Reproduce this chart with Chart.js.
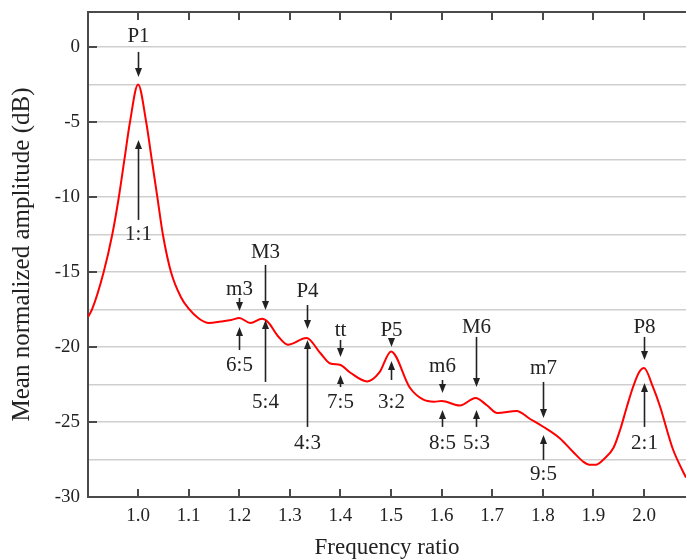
<!DOCTYPE html>
<html>
<head>
<meta charset="utf-8">
<script src="https://cdn.jsdelivr.net/npm/chart.js@4/dist/chart.umd.min.js"></script>
<style>
  html, body { margin: 0; padding: 0; background: #fff; }
  #wrap { width: 686px; height: 559px; }
</style>
</head>
<body>
<div id="wrap"><canvas id="myChart" width="686" height="559"></canvas></div>
<script>
// frequency ratio (x) and mean normalized amplitude in dB (y)
const ratios = [0.901, 0.909, 0.932, 0.949, 0.962, 0.973, 0.984, 1.0, 1.016, 1.027, 1.038, 1.049, 1.065,
  1.085, 1.1, 1.12, 1.14, 1.164, 1.184, 1.2, 1.222, 1.245, 1.257, 1.277, 1.296, 1.333, 1.36, 1.38, 1.4, 1.419,
  1.453, 1.477, 1.5, 1.537, 1.563, 1.585, 1.6, 1.636, 1.667, 1.69, 1.71, 1.748, 1.775, 1.8, 1.834, 1.86,
  1.88, 1.892, 1.905, 1.92, 1.94, 1.953, 1.966, 1.978, 1.99, 2.0, 2.018, 2.032, 2.045, 2.057, 2.077, 2.083];
const amplitudes = [-18.0, -17.5, -15.0, -12.5, -10.0, -7.5, -5.0, -2.5, -5.0, -7.5, -10.0, -12.5, -15.0,
  -16.7, -17.45, -18.1, -18.4, -18.3, -18.2, -18.07, -18.4, -18.12, -18.35, -19.3, -19.85, -19.4, -20.4, -21.1, -21.2, -21.7,
  -22.3, -21.7, -20.3, -22.7, -23.5, -23.65, -23.6, -23.9, -23.4, -23.9, -24.4, -24.27, -24.8, -25.3, -26.1, -27.0,
  -27.65, -27.85, -27.85, -27.5, -26.7, -25.5, -24.0, -22.7, -21.7, -21.4, -22.7, -24.0, -25.5, -26.8, -28.3, -28.7];

// x and y ticks
const xTicks = [1.0, 1.1, 1.2, 1.3, 1.4, 1.5, 1.6, 1.7, 1.8, 1.9, 2.0];
const yTicks = [-30, -25, -20, -15, -10, -5, 0];
const yGrid = [-30, -27.5, -25, -22.5, -20, -17.5, -15, -12.5, -10, -7.5, -5, -2.5, 0];

// interval names (above) and just ratios (below)
const intervalNames = ['P1', 'm3', 'M3', 'P4', 'tt', 'P5', 'm6', 'M6', 'm7', 'P8'];
const ratioNames = ['1:1', '6:5', '5:4', '4:3', '7:5', '3:2', '8:5', '5:3', '9:5', '2:1'];
const intervalRatios = [1.0, 1.2, 1.25, 1.333, 1.4, 1.5, 1.6, 1.667, 1.8, 2.0];

// where the labels and arrows sit, in dB
const topLabelY = [0.73, -16.2, -13.73, -16.33, -18.87, -18.87, -21.33, -18.73, -21.4, -18.67];
const topArrowFrom = [-0.33, -16.73, -14.53, -17.2, -19.53, -19.53, -22.2, -19.33, -22.33, -19.33];
const topArrowTo = [-2.0, -17.6, -17.53, -18.8, -20.67, -20.0, -23.07, -22.67, -24.73, -20.87];
const botArrowTo = [-6.2, -18.67, -18.2, -19.53, -21.87, -20.93, -24.2, -24.2, -25.87, -22.4];
const botArrowFrom = [-11.53, -20.2, -22.33, -25.33, -22.67, -22.2, -25.33, -25.33, -27.53, -25.33];
const botLabelY = [-12.53, -21.2, -23.73, -26.4, -23.73, -23.73, -26.4, -26.4, -28.53, -26.4];

const serif = "'Liberation Serif', 'Times New Roman', serif";
const axisColor = '#4a4a4a';

function arrow(ctx, x, y1, y2) {
    // line from y1 to y2, head at y2
    const dir = y2 > y1 ? 1 : -1;
    ctx.beginPath();
    ctx.moveTo(x, y1);
    ctx.lineTo(x, y2 - dir * 6);
    ctx.stroke();
    ctx.beginPath();
    ctx.moveTo(x, y2);
    ctx.lineTo(x - 3.5, y2 - dir * 9);
    ctx.lineTo(x + 3.5, y2 - dir * 9);
    ctx.closePath();
    ctx.fill();
}

const framePlugin = {
    id: 'frame',
    afterDatasetsDraw(chart) {
        const ctx = chart.ctx;
        const xs = chart.scales.x;
        const ys = chart.scales.y;
        const area = chart.chartArea;
        ctx.save();
        // top border
        ctx.strokeStyle = axisColor;
        ctx.lineWidth = 2;
        ctx.beginPath();
        ctx.moveTo(area.left, area.top);
        ctx.lineTo(area.right, area.top);
        ctx.stroke();
        // inside tick marks
        xTicks.forEach(v => {
            const px = Math.round(xs.getPixelForValue(v));
            ctx.beginPath();
            ctx.moveTo(px, area.bottom);
            ctx.lineTo(px, area.bottom - 8);
            ctx.moveTo(px, area.top);
            ctx.lineTo(px, area.top + 8);
            ctx.stroke();
        });
        yTicks.forEach(v => {
            const py = Math.round(ys.getPixelForValue(v));
            ctx.beginPath();
            ctx.moveTo(area.left, py);
            ctx.lineTo(area.left + 9, py);
            ctx.stroke();
        });

        // annotations
        ctx.fillStyle = '#222';
        ctx.strokeStyle = '#222';
        ctx.lineWidth = 1.6;
        ctx.font = '21px ' + serif;
        ctx.textAlign = 'center';
        ctx.textBaseline = 'middle';
        intervalRatios.forEach((r, i) => {
            const px = Math.round(xs.getPixelForValue(r)) + 0.5;
            ctx.fillText(intervalNames[i], px, ys.getPixelForValue(topLabelY[i]));
            arrow(ctx, px, ys.getPixelForValue(topArrowFrom[i]), ys.getPixelForValue(topArrowTo[i]));
            arrow(ctx, px, ys.getPixelForValue(botArrowFrom[i]), ys.getPixelForValue(botArrowTo[i]));
            ctx.fillText(ratioNames[i], px, ys.getPixelForValue(botLabelY[i]));
        });
        ctx.restore();
    }
};

const ctx = document.getElementById('myChart').getContext('2d');
new Chart(ctx, {
    type: 'scatter',
    data: {
        datasets: [{
            data: ratios.map((r, i) => ({ x: r, y: amplitudes[i] })),
            showLine: true,
            borderColor: '#ff0000',
            borderWidth: 2,
            pointRadius: 0,
            cubicInterpolationMode: 'monotone'
        }]
    },
    options: {
        responsive: false,
        animation: false,
        devicePixelRatio: 1,
        layout: { padding: { top: 12, right: 0, left: 0, bottom: 0 } },
        plugins: { legend: { display: false }, tooltip: { enabled: false } },
        scales: {
            x: {
                type: 'linear',
                min: 0.901,
                max: 2.083,
                afterBuildTicks: s => { s.ticks = xTicks.map(v => ({ value: v })); },
                afterFit: s => { s.height = 62; s.paddingLeft = 0; s.paddingRight = 0; },
                ticks: {
                    padding: 8,
                    color: '#222',
                    font: { family: serif, size: 19 },
                    callback: v => v.toFixed(1)
                },
                grid: { display: false, drawTicks: false },
                border: { display: true, color: axisColor, width: 2 },
                title: {
                    display: true,
                    text: 'Frequency ratio',
                    color: '#222',
                    font: { family: serif, size: 23, lineHeight: 1 },
                    padding: { top: 0, bottom: 0 }
                }
            },
            y: {
                min: -30,
                max: 2.33,
                afterBuildTicks: s => { s.ticks = yGrid.map(v => ({ value: v })); },
                afterFit: s => { s.width = 88; s.paddingTop = 0; s.paddingBottom = 0; },
                ticks: {
                    padding: 8,
                    color: '#222',
                    font: { family: serif, size: 19 },
                    callback: v => (v % 5 === 0 ? String(v) : '')
                },
                grid: { color: '#cfcfcf', lineWidth: 1.5, drawTicks: false },
                border: { display: true, color: axisColor, width: 2 },
                title: {
                    display: true,
                    text: 'Mean normalized amplitude (dB)',
                    color: '#222',
                    font: { family: serif, size: 25, lineHeight: 1 },
                    padding: { top: 10, bottom: 0 }
                }
            }
        }
    },
    plugins: [framePlugin]
});
</script>
</body>
</html>
